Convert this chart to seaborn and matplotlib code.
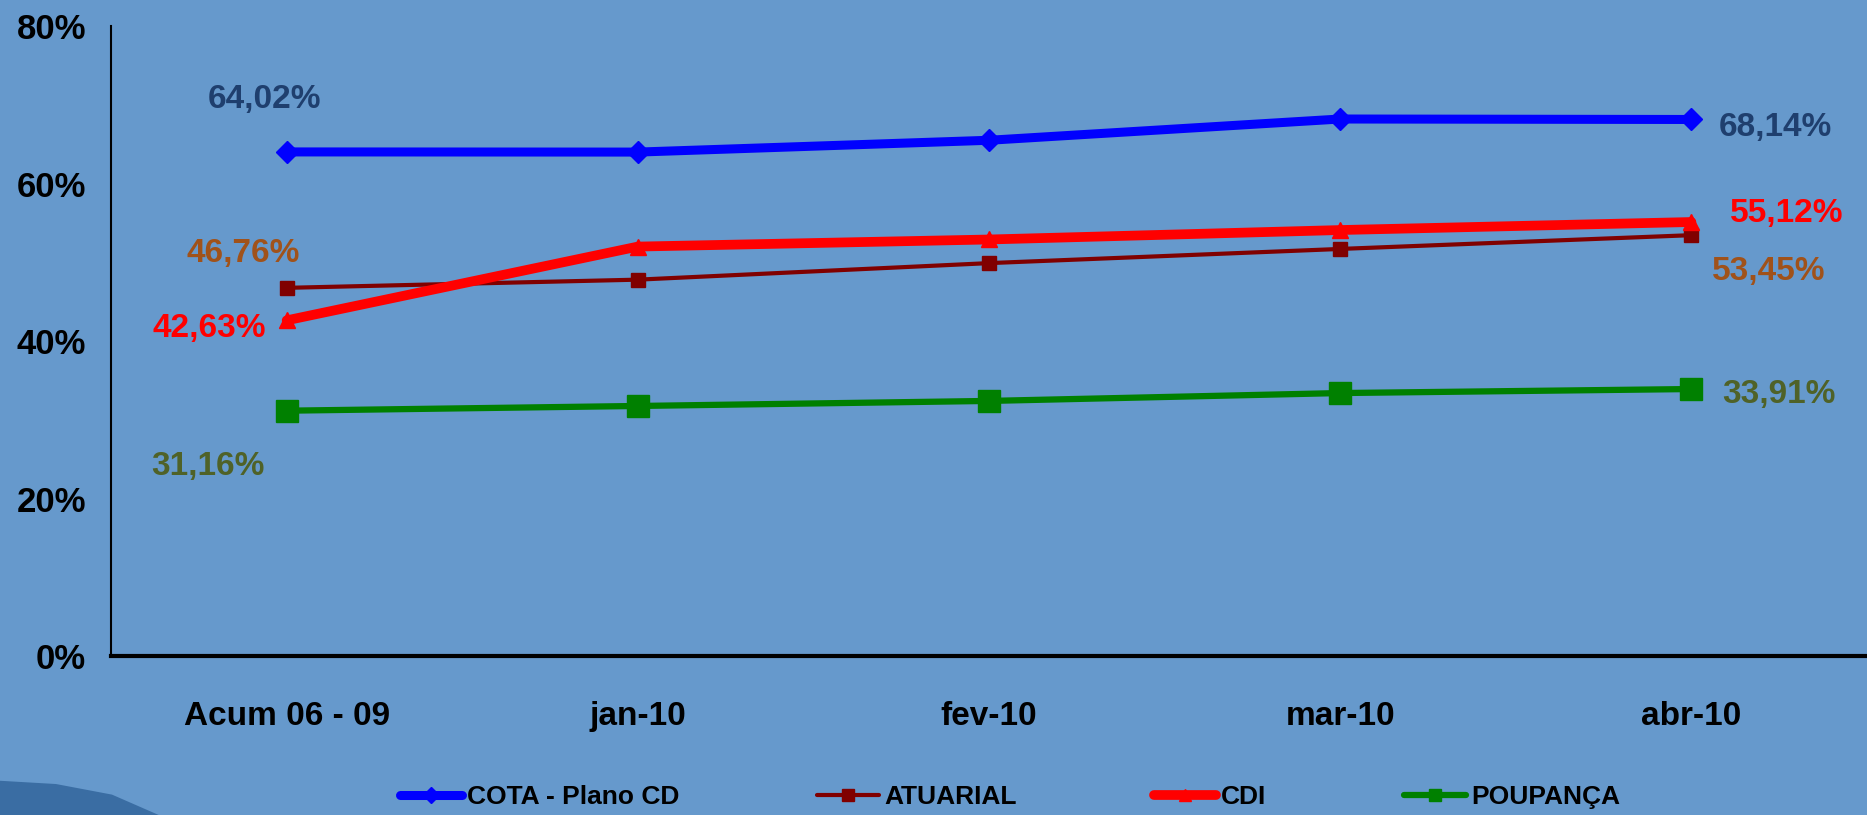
import matplotlib
matplotlib.use('Agg')
import matplotlib.pyplot as plt
import matplotlib.patches as mpatches
import pandas as pd
import seaborn as sns

CATEGORIES = ['Acum 06 - 09', 'jan-10', 'fev-10', 'mar-10', 'abr-10']
COTA = [64.02, 64.0, 65.5, 68.2, 68.14]
ATUARIAL = [46.76, 47.8, 49.9, 51.7, 53.45]
CDI = [42.63, 52.0, 52.9, 54.1, 55.12]
POUPANCA = [31.16, 31.76, 32.4, 33.4, 33.91]
SERIES_NAMES = ['COTA - Plano CD', 'ATUARIAL', 'CDI', 'POUPANÇA']
Y_TICKS = [0, 20, 40, 60, 80]

BG = '#6699CC'
FONT = ['Liberation Sans Narrow', 'Liberation Sans', 'DejaVu Sans']


def main():
    sns.set_theme(style='white')
    plt.rcParams['font.family'] = FONT
    plt.rcParams['font.weight'] = 'bold'
    plt.rcParams['text.color'] = 'black'
    plt.rcParams['xtick.color'] = 'black'
    plt.rcParams['ytick.color'] = 'black'

    data = {'COTA - Plano CD': COTA, 'ATUARIAL': ATUARIAL, 'CDI': CDI, 'POUPANÇA': POUPANCA}
    df = pd.DataFrame([(n, c, v) for n in SERIES_NAMES for c, v in zip(CATEGORIES, data[n])],
                      columns=['serie', 'mes', 'valor'])

    styles = {
        'COTA - Plano CD': dict(color='#0000FF', lw=6.5, marker='D', ms=11),
        'ATUARIAL': dict(color='#800000', lw=3.0, marker='s', ms=10),
        'CDI': dict(color='#FF0000', lw=7.0, marker='^', ms=12),
        'POUPANÇA': dict(color='#008000', lw=4.5, marker='s', ms=16),
    }

    fig = plt.figure(figsize=(18.67, 8.15), dpi=100, facecolor=BG)
    ax = fig.add_axes([0.0595, 0.195, 0.9405, 0.773])
    ax.set_facecolor(BG)

    # dark swoosh at bottom-left corner
    swoosh = mpatches.Polygon([(0, 0), (0, 0.042), (0.03, 0.038), (0.06, 0.025), (0.085, 0.0)],
                              closed=True, transform=fig.transFigure, facecolor='#3A6DA3',
                              edgecolor='none', zorder=0)
    fig.patches.append(swoosh)

    order = [0, 1, 3, 2]  # draw CDI above ATUARIAL
    for i in order:
        name = SERIES_NAMES[i]
        st = styles[name]
        sub = df[df['serie'] == name]
        sns.lineplot(data=sub, x='mes', y='valor', ax=ax, color=st['color'], linewidth=st['lw'],
                     marker=st['marker'], markersize=st['ms'], markeredgecolor=st['color'],
                     markeredgewidth=1.0, label=name, sort=False)

    # make sure marker sizes stick on every drawn line
    size_by_label = {n: styles[n]['ms'] for n in SERIES_NAMES}
    for line in ax.lines:
        if line.get_label() in size_by_label:
            line.set_markersize(size_by_label[line.get_label()])

    # value labels (first and last point)
    label_specs = [
        (COTA, '#1F3F6E', [(0, (-16, 38), 'center'), (4, (20, -6), 'left')]),
        (ATUARIAL, '#A0521A', [(0, (-31, 25), 'center'), (4, (15, -26), 'left')]),
        (CDI, '#FF0000', [(0, (-15, -6), 'right'), (4, (28, 6), 'left')]),
        (POUPANCA, '#4F6228', [(0, (-57, -40), 'center'), (4, (22, -4), 'left')]),
    ]
    for values, col, specs in label_specs:
        for idx, (dx, dy), ha in specs:
            ax.annotate(f'{values[idx]:.2f}'.replace('.', ',') + '%', xy=(idx, values[idx]),
                        xytext=(dx, dy), textcoords='offset points', ha=ha, va='center',
                        color=col, fontsize=24, fontweight='bold')

    ax.set_xlim(-0.5, 4.5)
    ax.set_ylim(0, 80)
    ax.set_yticks(Y_TICKS)
    ax.set_yticklabels([f'{t}%' for t in Y_TICKS], fontsize=25, fontweight='bold')
    ax.set_xticks(range(len(CATEGORIES)))
    ax.set_xticklabels(CATEGORIES, fontsize=24, fontweight='bold')
    ax.set_xticks([i - 0.5 for i in range(len(CATEGORIES) + 1)], minor=True)
    ax.tick_params(axis='x', which='major', length=0, pad=32)
    ax.tick_params(axis='x', which='minor', length=7, width=1.2, direction='out', color='black')
    ax.tick_params(axis='y', length=8, width=1.5, direction='out', color='black', pad=10)
    ax.set_xlabel('')
    ax.set_ylabel('')
    for s in ['top', 'right']:
        ax.spines[s].set_visible(False)
    ax.spines['left'].set_color('black')
    ax.spines['left'].set_linewidth(1.5)
    ax.spines['bottom'].set_color('black')
    ax.spines['bottom'].set_linewidth(3)
    ax.grid(False)

    handles, labels = ax.get_legend_handles_labels()
    hmap = dict(zip(labels, handles))
    ax.get_legend().remove()
    leg = fig.legend([hmap[n] for n in SERIES_NAMES], SERIES_NAMES, loc='center',
                     bbox_to_anchor=(0.541, 0.022), ncol=4, frameon=False,
                     prop={'size': 19, 'weight': 'bold', 'family': FONT},
                     handlelength=2.35, handletextpad=0.2, columnspacing=5.2)
    for h in leg.legend_handles:
        h.set_markersize(8)

    fig.savefig('out.png', dpi=100, facecolor=BG)


if __name__ == '__main__':
    main()
